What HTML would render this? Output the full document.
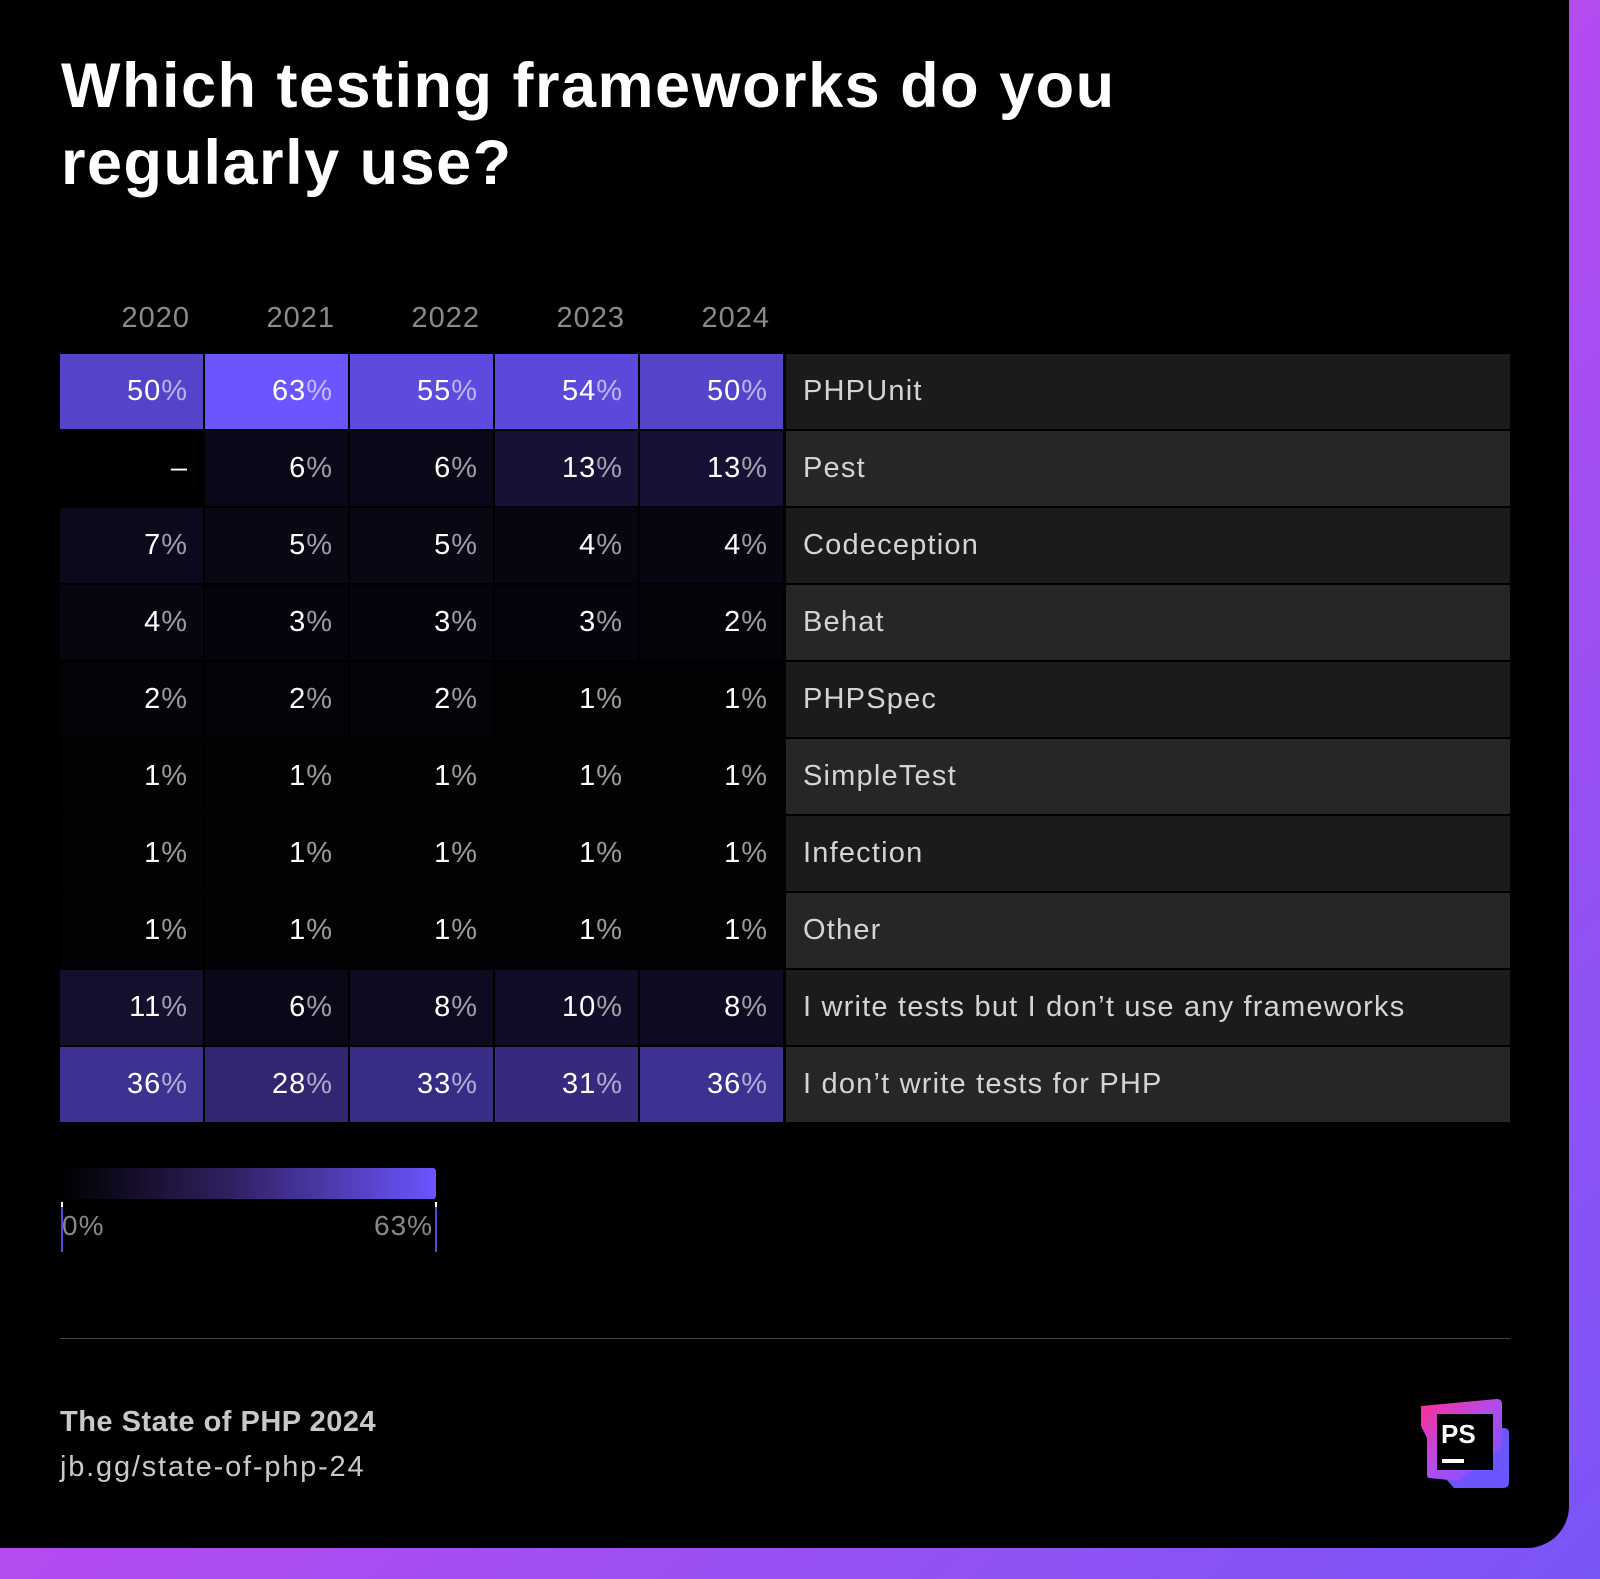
<!DOCTYPE html>
<html><head><meta charset="utf-8"><style>
html,body{margin:0;padding:0;}
body{width:1600px;height:1579px;position:relative;overflow:hidden;background:linear-gradient(135deg,#e03cb8 0%,#b44cf0 50%,#7a55f8 100%);font-family:"Liberation Sans",sans-serif;}
#panel{position:absolute;left:0;top:0;width:1569px;height:1548px;background:#000;border-bottom-right-radius:42px;}
.abs{position:absolute;}
.title{left:61px;top:48px;color:#fff;font-size:63px;font-weight:bold;line-height:77px;letter-spacing:1.5px;}
.year{color:#8a8a8a;font-size:29px;width:145px;text-align:right;top:302px;letter-spacing:1px;}
.cell{height:75px;line-height:75px;text-align:right;font-size:29px;color:#fff;box-sizing:border-box;padding-right:15px;letter-spacing:1px;}
.cell span{color:rgba(255,255,255,0.6)}
.lab{height:75px;line-height:75px;font-size:29px;color:#d4d4d4;padding-left:17px;box-sizing:border-box;letter-spacing:1.2px;}
</style></head><body>
<div id="panel"></div>
<div class="abs title">Which testing frameworks do you<br>regularly use?</div>
<div id="grid"></div>
<div class="abs" style="left:61px;top:1168px;width:375px;height:31px;border-radius:0 3px 3px 0;background:linear-gradient(90deg,#000,#302060 45%,#6b55ff);"></div>
<div class="abs" style="left:61px;top:1202px;width:2px;height:45px;background:#5a45d0;border-top:5px solid #fff;"></div>
<div class="abs" style="left:435px;top:1202px;width:2px;height:45px;background:#5a45d0;border-top:5px solid #fff;"></div>
<div class="abs" style="left:62px;top:1210px;font-size:28px;color:#888;letter-spacing:1px;">0%</div>
<div class="abs" style="left:374px;top:1210px;font-size:28px;color:#888;letter-spacing:1px;">63%</div>
<div class="abs" style="left:60px;top:1338px;width:1450px;height:1px;background:#444;"></div>
<div class="abs" style="left:60px;top:1406px;font-size:29px;font-weight:bold;color:#c8c8c8;letter-spacing:0.5px;">The State of PHP 2024</div>
<div class="abs" style="left:60px;top:1451px;font-size:29px;color:#c8c8c8;letter-spacing:1.8px;">jb.gg/state-of-php-24</div>
<svg class="abs" style="left:1419px;top:1398px" width="92" height="92" viewBox="0 0 92 92">
<defs><linearGradient id="g" x1="0" y1="0" x2="1" y2="1"><stop offset="0" stop-color="#ff2d90"/><stop offset=".5" stop-color="#b24cf0"/><stop offset="1" stop-color="#6b55ff"/></linearGradient></defs>
<path d="M22 32 L85 30 Q90 30 90 35 L90 84 Q90 90 84 90 L35 90 L8 60 L8 40 Z" fill="#6b55ff"/>
<path d="M2 8 L78 1 Q83 1 83 6 L83 50 L40 83 L10 80 Q8 80 8 76 L8 40 L2 28 Z" fill="url(#g)"/>
<rect x="18" y="16" width="56" height="56" fill="#000"/>
<text x="22" y="45" fill="#fff" font-family="Liberation Sans" font-weight="bold" font-size="26">PS</text>
<rect x="23" y="61" width="22" height="4" fill="#fff"/>
</svg>
<script>
const years=["2020","2021","2022","2023","2024"];
const frameworks=["PHPUnit","Pest","Codeception","Behat","PHPSpec","SimpleTest","Infection","Other","I write tests but I don’t use any frameworks","I don’t write tests for PHP"];
const v2020=[50,null,7,4,2,1,1,1,11,36];
const v2021=[63,6,5,3,2,1,1,1,6,28];
const v2022=[55,6,5,3,2,1,1,1,8,33];
const v2023=[54,13,4,3,1,1,1,1,10,31];
const v2024=[50,13,4,2,1,1,1,1,8,36];
const series=[v2020,v2021,v2022,v2023,v2024];
const maxVal=63;
const x0=60,colW=145,y0=354,rowH=77;
const xPos=c=>x0+c*colW;
const yPos=r=>y0+r*rowH;
function color(v){if(v==null)return "#000";const g=v/maxVal;return `rgb(${Math.round(107*g)},${Math.round(85*g)},${Math.round(255*g)})`;}
const grid=document.getElementById('grid');
years.forEach((y,c)=>{const d=document.createElement('div');d.className='abs year';d.style.left=(xPos(c)-15)+'px';d.textContent=y;


grid.appendChild(d);});
frameworks.forEach((f,r)=>{
 series.forEach((s,c)=>{const v=s[r];const d=document.createElement('div');d.className='abs cell';
 d.style.left=xPos(c)+'px';d.style.top=yPos(r)+'px';d.style.width=(colW-2)+'px';d.style.background=color(v);
 d.innerHTML=v==null?'–':v+'<span>%</span>';
 
 
 grid.appendChild(d);});
 const l=document.createElement('div');l.className='abs lab';l.style.left=(xPos(5)+1)+'px';l.style.top=yPos(r)+'px';l.style.width=(1510-xPos(5)-1)+'px';
 l.style.background=r%2?'#262626':'#1b1b1b';l.textContent=f;
 
 
 grid.appendChild(l);
});
</script>
</body></html>
